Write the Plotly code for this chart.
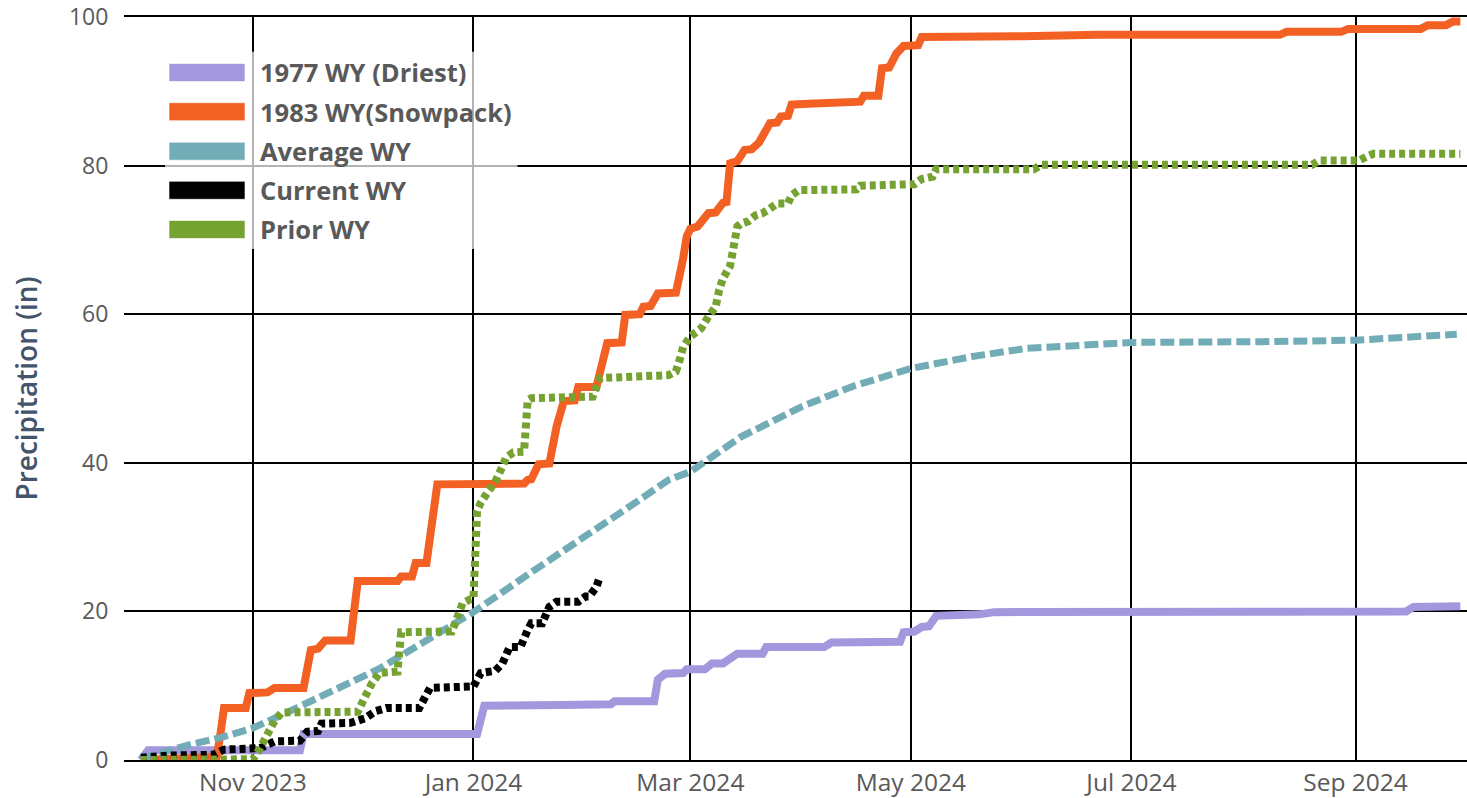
import plotly.graph_objects as go

# ---------------- data ----------------
driest_dates = ["2023-10-01", "2023-10-03", "2023-11-14", "2023-11-15", "2024-01-02", "2024-01-04",
                "2024-01-25", "2024-02-08", "2024-02-09", "2024-02-20", "2024-02-21", "2024-02-23",
                "2024-02-28", "2024-02-29", "2024-03-05", "2024-03-07", "2024-03-10", "2024-03-12",
                "2024-03-14", "2024-03-21", "2024-03-22", "2024-04-07", "2024-04-09", "2024-04-28",
                "2024-04-29", "2024-05-02", "2024-05-04", "2024-05-06", "2024-05-08", "2024-05-20",
                "2024-05-24", "2024-09-15", "2024-09-17", "2024-09-30"]
driest_vals = [0.0, 1.3, 1.3, 3.5, 3.5, 7.3,
               7.4, 7.5, 7.9, 7.9, 10.8, 11.6,
               11.7, 12.2, 12.2, 13.0, 13.0, 13.8,
               14.3, 14.3, 15.2, 15.2, 15.8, 15.9,
               17.2, 17.3, 17.9, 18.0, 19.4, 19.6,
               19.9, 20.0, 20.6, 20.7]

snow_dates = ["2023-10-01", "2023-10-22", "2023-10-23", "2023-10-24", "2023-10-30", "2023-10-31",
              "2023-11-05", "2023-11-07", "2023-11-15", "2023-11-17", "2023-11-19", "2023-11-21",
              "2023-11-28", "2023-11-30", "2023-12-11", "2023-12-12", "2023-12-15", "2023-12-16",
              "2023-12-19", "2023-12-22", "2024-01-15", "2024-01-16", "2024-01-17", "2024-01-19",
              "2024-01-22", "2024-01-24", "2024-01-26", "2024-01-29", "2024-01-30", "2024-02-04",
              "2024-02-07", "2024-02-11", "2024-02-12", "2024-02-16", "2024-02-17", "2024-02-19",
              "2024-02-21", "2024-02-26", "2024-02-28", "2024-02-29", "2024-03-01", "2024-03-03",
              "2024-03-06", "2024-03-08", "2024-03-10", "2024-03-11", "2024-03-12", "2024-03-14",
              "2024-03-16", "2024-03-18", "2024-03-20", "2024-03-23", "2024-03-25", "2024-03-26",
              "2024-03-28", "2024-03-29", "2024-04-01", "2024-04-17", "2024-04-18", "2024-04-22",
              "2024-04-23", "2024-04-25", "2024-04-27", "2024-04-29", "2024-05-03", "2024-05-04",
              "2024-06-01", "2024-06-22", "2024-08-11", "2024-08-13", "2024-08-28", "2024-08-30",
              "2024-09-19", "2024-09-21", "2024-09-26", "2024-09-28", "2024-09-30"]
snow_vals = [0.0, 0.4, 3.5, 7.0, 7.0, 9.0,
             9.1, 9.7, 9.7, 14.8, 15.0, 16.1,
             16.1, 24.1, 24.1, 24.7, 24.7, 26.5,
             26.5, 37.1, 37.2, 37.7, 37.8, 39.8,
             39.9, 44.9, 48.3, 48.4, 50.2, 50.2,
             56.1, 56.2, 59.9, 60.0, 61.0, 61.1,
             62.8, 62.9, 67.5, 70.5, 71.5, 71.8,
             73.6, 73.7, 75.0, 75.1, 80.3, 80.6,
             82.1, 82.2, 83.1, 85.7, 85.8, 86.6,
             86.7, 88.2, 88.3, 88.6, 89.4, 89.4,
             93.1, 93.2, 95.1, 96.1, 96.2, 97.3,
             97.4, 97.6, 97.6, 98.0, 98.0, 98.4,
             98.4, 98.9, 98.9, 99.4, 99.4]

avg_dates = ["2023-10-01", "2023-10-14", "2023-10-23", "2023-11-01", "2023-11-10", "2023-11-19",
             "2023-11-28", "2023-12-06", "2024-01-01", "2024-01-18", "2024-02-15", "2024-02-24",
             "2024-03-01", "2024-03-15", "2024-04-01", "2024-04-15", "2024-05-01", "2024-05-18",
             "2024-06-02", "2024-06-17", "2024-07-01", "2024-08-06", "2024-09-01", "2024-09-29"]
avg_vals = [0.2, 2.0, 3.0, 4.3, 6.3, 8.3,
            10.4, 12.3, 19.9, 25.6, 34.7, 37.7,
            38.8, 43.5, 47.6, 50.3, 52.7, 54.3,
            55.4, 55.9, 56.2, 56.3, 56.5, 57.3]

current_dates = ["2023-10-01", "2023-10-09", "2023-10-21", "2023-10-24", "2023-11-03", "2023-11-07",
                 "2023-11-14", "2023-11-16", "2023-11-19", "2023-11-20", "2023-11-28", "2023-12-02",
                 "2023-12-05", "2023-12-08", "2023-12-17", "2023-12-20", "2024-01-01", "2024-01-03",
                 "2024-01-07", "2024-01-09", "2024-01-11", "2024-01-14", "2024-01-16", "2024-01-17",
                 "2024-01-20", "2024-01-22", "2024-01-24", "2024-01-30", "2024-02-01", "2024-02-02",
                 "2024-02-04", "2024-02-05"]
current_vals = [0.3, 0.6, 0.7, 1.4, 1.6, 2.5,
                2.6, 3.8, 3.9, 4.9, 5.0, 5.6,
                6.6, 7.0, 7.0, 9.7, 9.9, 11.7,
                12.0, 13.0, 15.2, 15.2, 17.5, 18.4,
                18.4, 20.6, 21.3, 21.3, 22.0, 22.0,
                23.3, 24.7]

prior_dates = ["2023-10-01", "2023-11-01", "2023-11-03", "2023-11-05", "2023-11-07", "2023-11-09",
               "2023-11-30", "2023-12-02", "2023-12-04", "2023-12-06", "2023-12-11", "2023-12-12",
               "2023-12-26", "2023-12-27", "2023-12-29", "2023-12-31", "2024-01-01", "2024-01-02",
               "2024-01-03", "2024-01-05", "2024-01-07", "2024-01-09", "2024-01-10", "2024-01-12",
               "2024-01-15", "2024-01-16", "2024-01-17", "2024-02-03", "2024-02-05", "2024-02-24",
               "2024-02-26", "2024-02-27", "2024-02-28", "2024-03-01", "2024-03-04", "2024-03-06",
               "2024-03-08", "2024-03-09", "2024-03-10", "2024-03-12", "2024-03-13", "2024-03-14",
               "2024-03-15", "2024-03-17", "2024-03-19", "2024-03-21", "2024-03-23", "2024-03-25",
               "2024-03-28", "2024-03-29", "2024-03-31", "2024-04-16", "2024-04-17", "2024-04-30",
               "2024-05-02", "2024-05-04", "2024-05-07", "2024-05-08", "2024-06-04", "2024-06-06",
               "2024-08-20", "2024-08-22", "2024-09-02", "2024-09-04", "2024-09-06", "2024-09-30"]
prior_vals = [0.0, 0.1, 1.6, 3.6, 5.3, 6.4,
              6.5, 8.5, 10.4, 11.7, 11.9, 17.2,
              17.3, 18.5, 21.1, 21.6, 21.7, 33.5,
              34.6, 36.1, 37.4, 39.5, 40.7, 41.4,
              41.5, 48.4, 48.7, 48.9, 51.4, 51.8,
              52.3, 53.8, 55.6, 57.0, 58.1, 59.7,
              61.0, 63.3, 64.8, 66.5, 69.5, 71.8,
              72.2, 72.5, 73.3, 73.6, 74.2, 74.9,
              74.9, 76.0, 76.7, 76.8, 77.3, 77.3,
              77.5, 78.2, 78.5, 79.5, 79.5, 80.1,
              80.1, 80.7, 80.7, 81.2, 81.6, 81.6]

series_names = ["1977 WY (Driest)", "1983 WY(Snowpack)", "Average WY", "Current WY", "Prior WY"]
series_colors = ["#a397dd", "#f26024", "#72adb7", "#000000", "#76a232"]

y_ticks = [0, 20, 40, 60, 80, 100]

# ---------------- figure ----------------
# The page body margin is removed by a small post script, so the figure
# fills the whole 1467x798 window and pixel positions are page coordinates.
W, H = 1467, 798
PLOT_L, PLOT_T, PLOT_R, PLOT_B = 124, 17, 1467, 760
ML, MT = PLOT_L, PLOT_T
PW, PH = PLOT_R - PLOT_L, PLOT_B - PLOT_T
MR = W - ML - PW
MB = H - MT - PH

def px(x):
    return (x - PLOT_L) / PW

def py(y):
    return (PLOT_B - y) / PH

styles = [
    dict(width=8),
    dict(width=8),
    dict(width=7, dash="14px,5px"),
    dict(width=8, dash="6px,4px"),
    dict(width=8, dash="6px,4px"),
]
xs = [driest_dates, snow_dates, avg_dates, current_dates, prior_dates]
ys = [driest_vals, snow_vals, avg_vals, current_vals, prior_vals]

fig = go.Figure()
for name, color, st, x, y in zip(series_names, series_colors, styles, xs, ys):
    fig.add_trace(go.Scatter(x=x, y=y, mode="lines", name=name,
                             line=dict(color=color, **st), showlegend=False))

font_family = "Segoe UI, Open Sans, sans-serif"

shapes = [dict(type="rect", xref="paper", yref="paper",
               x0=px(165), x1=px(517.5), y0=py(249), y1=py(51.7),
               fillcolor="rgba(255,255,255,0.7)", line=dict(width=0), layer="above")]
annotations = []
row_centers = [72.5, 111.7, 151.2, 190.3, 229.5]
for name, color, yc in zip(series_names, series_colors, row_centers):
    shapes.append(dict(type="rect", xref="paper", yref="paper",
                       x0=px(169), x1=px(245), y0=py(yc + 9), y1=py(yc - 9),
                       fillcolor=color, line=dict(width=1, color="rgba(255,255,255,0.6)"),
                       layer="above"))
    annotations.append(dict(xref="paper", yref="paper", x=px(258), y=py(yc),
                            xanchor="left", yanchor="middle", showarrow=False,
                            text=name,
                            font=dict(family=font_family, size=25.5, color="#595959", weight="bold")))

fig.update_layout(
    width=W, height=H,
    margin=dict(l=ML, r=MR, t=MT, b=MB, autoexpand=False),
    paper_bgcolor="white", plot_bgcolor="white",
    showlegend=False,
    font=dict(family=font_family, color="#595959"),
    shapes=shapes, annotations=annotations,
    hovermode=False,
)
fig.update_xaxes(
    type="date",
    range=["2023-09-26 08:00", "2024-10-01 20:00"],
    tick0="2023-11-01", dtick="M2", tickformat="%b %Y",
    showgrid=True, gridcolor="black", gridwidth=2,
    showline=True, linecolor="black", linewidth=2, mirror=True,
    zeroline=False, ticks="",
    tickfont=dict(family=font_family, size=24.5, color="#595959"),
    ticklabeloverflow="allow",
    automargin=False,
)
fig.update_yaxes(
    range=[0, 100], tickvals=y_ticks,
    showgrid=True, gridcolor="black", gridwidth=2,
    zeroline=False, showline=False,
    ticks="outside", ticklen=10, tickcolor="rgba(0,0,0,0)",
    tickfont=dict(family=font_family, size=23, color="#595959"),
    ticklabeloverflow="allow",
    title=dict(text="Precipitation (in)", standoff=23,
               font=dict(family=font_family, size=28, color="#44546a", weight=600)),
    automargin=False,
)

fig.write_html("out.html",
               config={"displayModeBar": False, "staticPlot": True},
               post_script="document.body.style.margin='0px';document.body.style.overflow='hidden';")
